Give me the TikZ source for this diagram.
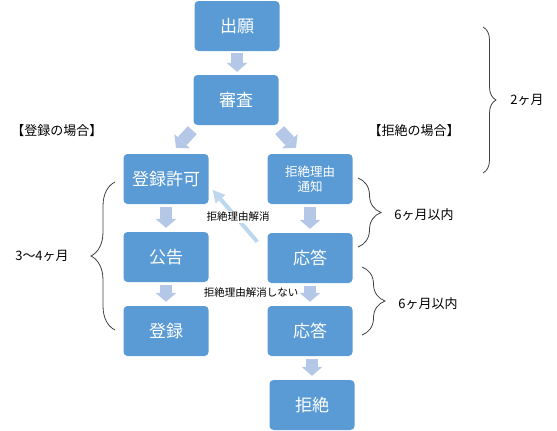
\documentclass[tikz,border=0pt]{standalone}
\usepackage{fontspec}
\setmainfont{Noto Sans CJK JP}
\usepackage{tikz}
\usepackage{xcolor}
\definecolor{boxblue}{RGB}{91, 155, 213}
\definecolor{arrowblue}{RGB}{180, 199, 231}
\definecolor{linkblue}{RGB}{189, 215, 238}
\definecolor{bracegray}{RGB}{64, 64, 64}
\usetikzlibrary{arrows.meta, decorations.pathreplacing}
\tikzstyle{stage} = [fill=boxblue, rounded corners=4pt, text=white,
                     minimum width=85pt, minimum height=50pt, inner sep=2pt,
                     font=\fontsize{17}{20}\selectfont, align=center]
\tikzstyle{flow} = [draw=arrowblue, line width=12pt,
                    -{Triangle[length=9pt, width=21pt, line width=0pt]},
                    shorten <=3pt, shorten >=4pt]
\tikzstyle{note} = [font=\fontsize{10.5}{12}\selectfont, fill=white, inner sep=1pt]
\tikzstyle{period} = [font=\fontsize{13}{16}\selectfont]
\tikzstyle{spanbrace} = [draw=bracegray, line width=0.8pt, decorate]

\begin{document}
\begin{tikzpicture}[x=1pt, y=-1pt]
                    \useasboundingbox (0,0) rectangle (557,431);
                    % flow boxes
                    \node[stage] (shutsugan) at (237,26) {出願};
                    \node[stage] (shinsa) at (236,100) {審査};
                    \node[stage] (kyoka) at (166,179) {登録許可};
                    \node[stage, font=\fontsize{12.5}{15}\selectfont] (tsuchi) at (310,179) {拒絶理由\\通知};
                    \node[stage] (kokoku) at (166,257) {公告};
                    \node[stage] (otoa) at (310,258) {応答};
                    \node[stage] (toroku) at (166,331) {登録};
                    \node[stage] (otob) at (310,331) {応答};
                    \node[stage] (kyozetsu) at (312,405) {拒絶};
                    % block arrows
                    \draw[flow, shorten <=2pt, shorten >=3pt] (shutsugan.south) -- (shutsugan.south |- shinsa.north);
                    \draw[flow, shorten <=0pt, shorten >=0pt] ([shift={(-1,5)}]shinsa.south west) -- ([shift={(10,-6)}]kyoka.north);
                    \draw[flow, shorten <=0pt, shorten >=0pt] ([shift={(1,5)}]shinsa.south east) -- ([shift={(-14,-6)}]tsuchi.north);
                    \draw[flow] (kyoka) -- (kokoku);
                    \draw[flow] (kokoku) -- (toroku);
                    \draw[flow] (tsuchi) -- (otoa);
                    \draw[flow] (otoa) -- (otob);
                    \draw[flow] (otob.south -| kyozetsu.north) -- (kyozetsu.north);
                    % back to grant
                    \draw[draw=linkblue, line width=4pt, -{Triangle[length=12pt, width=13pt, line width=0pt]}]
                        ([shift={(-10,9)}]otoa.north west) -- ([shift={(4,11)}]kyoka.east);
                    \node[note] (kaisho) at (238,217) {拒絶理由解消};
                    \node[note] (mikaisho) at (251,293) {拒絶理由解消しない};
                    % case headings
                    \node[period] (torokucase) at (57,131) {【登録の場合】};
                    \node[period] (kyozetsucase) at (414,131) {【拒絶の場合】};
                    % periods
                    \draw[spanbrace, decoration={brace, amplitude=13pt}] (483,27) -- (483,173);
                    \node[period] (nikagetsu) at (527,100) {2ヶ月};
                    \draw[spanbrace, decoration={brace, amplitude=23pt}] (358,178) -- (358,247);
                    \node[period] (rokua) at (424,215) {6ヶ月以内};
                    \draw[spanbrace, decoration={brace, amplitude=23pt}] (362,267) -- (362,335);
                    \node[period] (rokub) at (428,304) {6ヶ月以内};
                    \draw[spanbrace, decoration={brace, amplitude=24pt}] (115,330) -- (115,182);
                    \node[period] (sanyon) at (42,256) {3〜4ヶ月};
                \end{tikzpicture}
\end{document}
